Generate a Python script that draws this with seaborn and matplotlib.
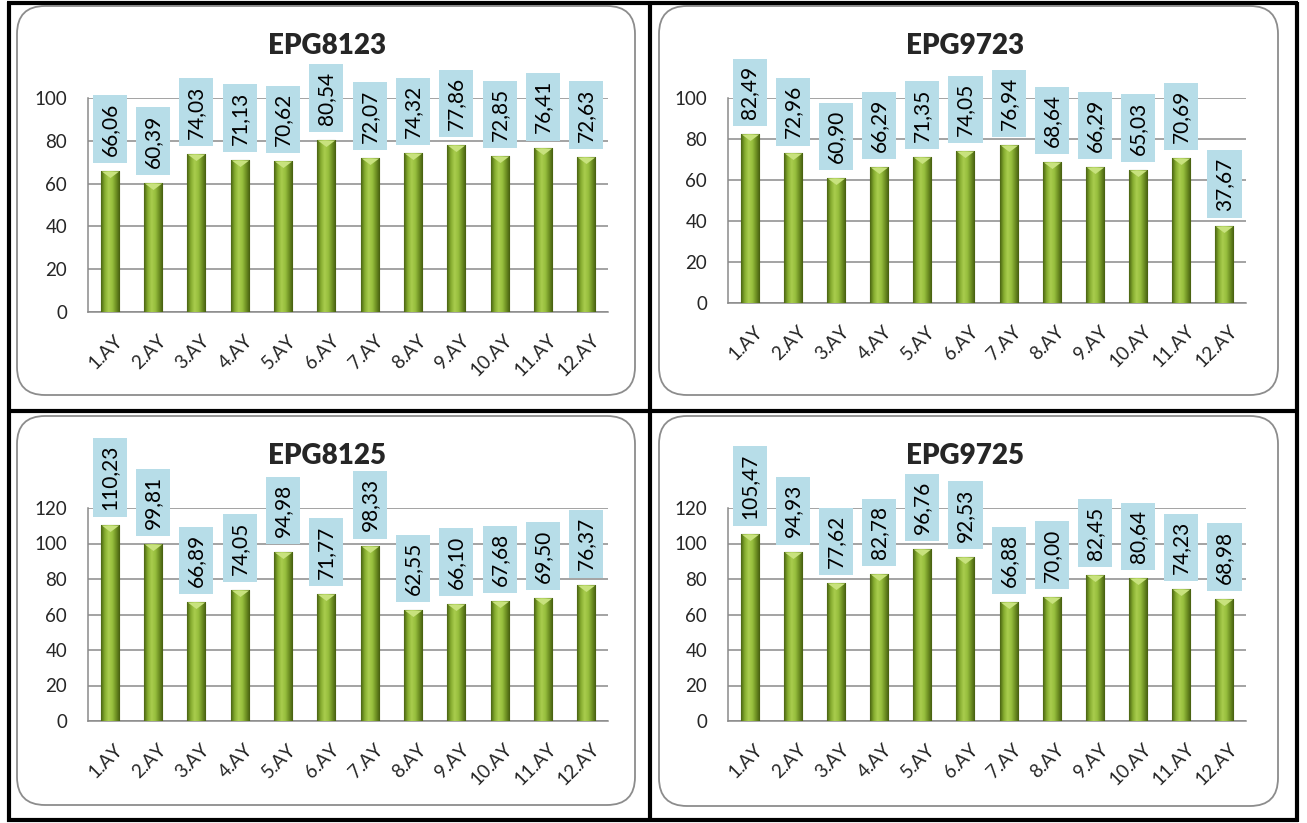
import numpy as np
import seaborn as sns
import matplotlib.pyplot as plt
from matplotlib.patches import FancyBboxPatch
from matplotlib.path import Path
from matplotlib.colors import LinearSegmentedColormap
import matplotlib.transforms as mtransforms

# Data
months = ["1.AY", "2.AY", "3.AY", "4.AY", "5.AY", "6.AY",
          "7.AY", "8.AY", "9.AY", "10.AY", "11.AY", "12.AY"]

titles = ["EPG8123", "EPG9723", "EPG8125", "EPG9725"]

epg8123 = [66.06, 60.39, 74.03, 71.13, 70.62, 80.54, 72.07, 74.32, 77.86, 72.85, 76.41, 72.63]
epg9723 = [82.49, 72.96, 60.90, 66.29, 71.35, 74.05, 76.94, 68.64, 66.29, 65.03, 70.69, 37.67]
epg8125 = [110.23, 99.81, 66.89, 74.05, 94.98, 71.77, 98.33, 62.55, 66.10, 67.68, 69.50, 76.37]
epg9725 = [105.47, 94.93, 77.62, 82.78, 96.76, 92.53, 66.88, 70.00, 82.45, 80.64, 74.23, 68.98]

series = [epg8123, epg9723, epg8125, epg9725]
y_max = [100, 100, 120, 120]
y_step = 20

sns.set_style("white")
plt.rcParams["font.family"] = ["Lato", "DejaVu Sans"]

W, H = 1307, 823
fig = plt.figure(figsize=(W / 100, H / 100), dpi=100)
# pixel coordinates measured from the top-left corner
px = mtransforms.Affine2D().scale(1 / W, -1 / H).translate(0, 1) + fig.transFigure

# axes rectangles in pixels: left, top, right, bottom
axes_px = [(88, 98, 608, 312), (728, 98, 1246, 303),
           (88, 508, 608, 721), (728, 508, 1246, 721)]
boxes_px = [(17, 6, 635, 395), (659, 6, 1278, 395),
            (17, 416, 635, 805), (659, 416, 1278, 806)]
title_px = [(327, 46), (965, 46), (327, 456), (965, 456)]

bar_cmap = LinearSegmentedColormap.from_list(
    "bar", ["#4a6412", "#86ad30", "#a9cd4e", "#98bf3e", "#6f9124", "#465e10"])
grad = np.linspace(0, 1, 64).reshape(1, -1)
chevron = Path([(-1, 0), (1, 0), (0, -0.75), (-1, 0)],
               [Path.MOVETO, Path.LINETO, Path.LINETO, Path.CLOSEPOLY])

# rounded panel frames
for (x0, y0, x1, y1) in boxes_px:
    fig.patches.append(FancyBboxPatch(
        (x0, y0), x1 - x0, y1 - y0, boxstyle="round,pad=0,rounding_size=28",
        transform=px, fc="none", ec="#8c8c8c", lw=1.3, zorder=-1))

for k, vals in enumerate(series):
    l, t, r, b = axes_px[k]
    ax = fig.add_axes([l / W, 1 - b / H, (r - l) / W, (b - t) / H])
    ax.set_facecolor("none")
    sns.barplot(x=months, y=vals, ax=ax, color="#8db53a", width=0.42,
                edgecolor="#3f5410", linewidth=0.8, zorder=3)

    # gradient fill clipped to each bar
    for p in list(ax.patches):
        x0, y0 = p.get_x(), p.get_y()
        im = ax.imshow(grad, cmap=bar_cmap, aspect="auto", zorder=3.5,
                       extent=[x0, x0 + p.get_width(), y0, y0 + p.get_height()])
        im.set_clip_path(p)
    ax.plot(range(len(vals)), vals, ls="none", marker=chevron, ms=12.5,
            mfc="#c8e27e", mec="none", zorder=4)

    for i, v in enumerate(vals):
        ax.annotate(f"{v:.2f}".replace(".", ","), xy=(i, v), xytext=(0, 10.8),
                    textcoords="offset points", rotation=90, ha="center", va="bottom",
                    fontsize=15, color="black", zorder=6,
                    bbox=dict(boxstyle="square,pad=0.34", fc="#b7dde8", ec="none"))

    ax.set_xlim(-0.5, 11.5)
    ax.set_ylim(0, y_max[k])
    ax.set_yticks(np.arange(0, y_max[k] + 1, y_step))
    ax.yaxis.grid(True, color="#8a8a8a", lw=1.1)
    ax.set_axisbelow(True)
    for s in ["top", "right"]:
        ax.spines[s].set_visible(False)
    for s in ["left", "bottom"]:
        ax.spines[s].set_color("#8a8a8a")
        ax.spines[s].set_linewidth(1.1)
    ax.tick_params(axis="y", length=0, pad=15, labelsize=13.5)
    ax.tick_params(axis="x", length=0, pad=14, labelsize=13.5)
    shift = mtransforms.ScaledTranslation(3 / 72, 0, fig.dpi_scale_trans)
    for lab in ax.get_xticklabels():
        lab.set_rotation(45)
        lab.set_ha("right")
        lab.set_va("top")
        lab.set_rotation_mode("anchor")
        lab.set_transform(lab.get_transform() + shift)

    fig.text(title_px[k][0], title_px[k][1], titles[k], transform=px,
             ha="center", va="center", fontsize=20, fontweight="heavy")

# black outer frame and dividers
black = dict(color="black", lw=3, transform=px, solid_capstyle="butt")
for xs, ys in [([8.5, 8.5], [2, 822]), ([1296.5, 1296.5], [2, 822]),
               ([7, 1298], [3.5, 3.5]), ([7, 1298], [820.5, 820.5]),
               ([650, 650], [2, 822]), ([7, 1298], [411.5, 411.5])]:
    fig.add_artist(plt.Line2D(xs, ys, **black))

fig.savefig("out.png", dpi=100, facecolor="white")
